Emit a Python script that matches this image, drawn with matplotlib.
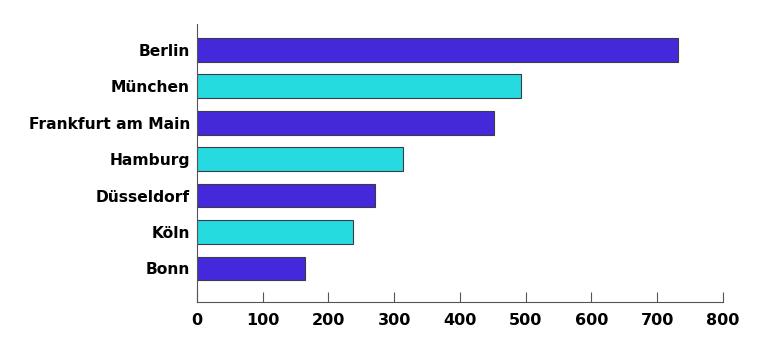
import matplotlib
matplotlib.use("Agg")
import matplotlib.pyplot as plt

# city values
cities = ["Berlin", "München", "Frankfurt am Main", "Hamburg", "Düsseldorf", "Köln", "Bonn"]
values = [731, 493, 452, 314, 270, 238, 164]
bar_colors = ["#4429DB", "#26DBDF"] * 4
xticks = [0, 100, 200, 300, 400, 500, 600, 700, 800]

plt.rcParams['font.family'] = ['DejaVu Sans']

fig = plt.figure(figsize=(7.68, 3.53), dpi=100)
ax = fig.add_axes([0.2565, 0.1445, 0.6849, 0.7875])

ypos = list(range(len(cities)))
ax.barh(ypos, values, height=0.65, color=bar_colors[:len(cities)],
        edgecolor="#3a3a4a", linewidth=0.8, zorder=2)

ax.set_yticks(ypos)
ax.set_yticklabels(cities, fontsize=11.2, fontweight='bold')
ax.set_ylim(6.92, -0.71)
ax.set_xlim(0, 800)
ax.set_xticks(xticks)
ax.set_xticklabels([str(t) for t in xticks], fontsize=11.5, fontweight='bold')

ax.tick_params(axis='y', length=0, pad=5)
ax.tick_params(axis='x', direction='in', length=7, width=0.8, color="#555555", pad=8)

for s in ['top', 'right']:
    ax.spines[s].set_visible(False)
for s in ['left', 'bottom']:
    ax.spines[s].set_color("#555555")
    ax.spines[s].set_linewidth(0.8)

fig.savefig("out.png", dpi=100)
